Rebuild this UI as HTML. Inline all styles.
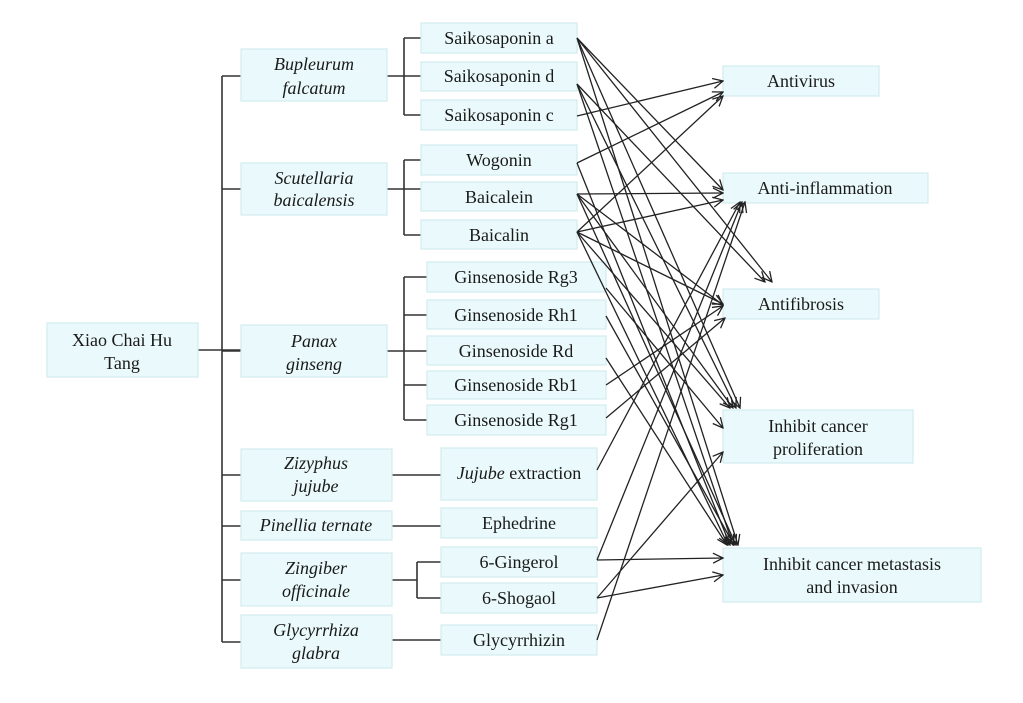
<!DOCTYPE html>
<html><head><meta charset="utf-8"><style>
body{margin:0;background:#fff;}
svg{display:block;}
.b{fill:#eaf9fb;stroke:#d2ecef;stroke-width:1.2;}
text{font-family:"Liberation Serif",serif;font-size:18px;fill:#1a1a1a;text-anchor:middle;}
.i{font-style:italic;}
.l{stroke:#333;stroke-width:1.6;fill:none;}
.a{stroke:#222;stroke-width:1.3;fill:none;marker-end:url(#m);}
</style></head><body>
<svg width="1023" height="703" viewBox="0 0 1023 703">
<defs><marker id="m" markerWidth="12" markerHeight="12" refX="11" refY="6" orient="auto" markerUnits="userSpaceOnUse"><path d="M1,1 L11,6 L1,11" fill="none" stroke="#222" stroke-width="1.3"/></marker></defs>
<path class="l" d="M198 350H241M222 76V642M222 76H241M222 189H241M222 351H241M222 475H241M222 526H241M222 580H241M222 642H241"/>
<path class="l" d="M387 76H421M404 38V115M404 38H421M404 115H421"/>
<path class="l" d="M387 189H421M404 160V235M404 160H421M404 235H421"/>
<path class="l" d="M387 351H427M404 277V420M404 277H427M404 315H427M404 385H427M404 420H427"/>
<path class="l" d="M392 475H441M392 526H441M392 580H417M417 562V598M417 562H441M417 598H441M392 640H441"/>
<rect class="b" x="47" y="323" width="151" height="54"/>
<text x="122" y="346">Xiao Chai Hu</text><text x="122" y="369">Tang</text>
<rect class="b" x="241" y="49" width="146" height="52"/>
<text class="i" x="314" y="70">Bupleurum</text><text class="i" x="314" y="94">falcatum</text>
<rect class="b" x="241" y="163" width="146" height="52"/>
<text class="i" x="314" y="184">Scutellaria</text><text class="i" x="314" y="206">baicalensis</text>
<rect class="b" x="241" y="325" width="146" height="52"/>
<text class="i" x="314" y="347">Panax</text><text class="i" x="314" y="370">ginseng</text>
<rect class="b" x="241" y="449" width="151" height="52"/>
<text class="i" x="316" y="469">Zizyphus</text><text class="i" x="316" y="492">jujube</text>
<rect class="b" x="241" y="511" width="151" height="29"/>
<text class="i" x="316" y="531">Pinellia ternate</text>
<rect class="b" x="241" y="553" width="151" height="53"/>
<text class="i" x="316" y="574">Zingiber</text><text class="i" x="316" y="597">officinale</text>
<rect class="b" x="241" y="615" width="151" height="53"/>
<text class="i" x="316" y="636">Glycyrrhiza</text><text class="i" x="316" y="659">glabra</text>

<rect class="b" x="421" y="23" width="156" height="30"/><text x="499" y="44">Saikosaponin a</text>
<rect class="b" x="421" y="62" width="156" height="29"/><text x="499" y="82">Saikosaponin d</text>
<rect class="b" x="421" y="100" width="156" height="30"/><text x="499" y="121">Saikosaponin c</text>
<rect class="b" x="421" y="145" width="156" height="30"/><text x="499" y="166">Wogonin</text>
<rect class="b" x="421" y="182" width="156" height="29"/><text x="499" y="203">Baicalein</text>
<rect class="b" x="421" y="220" width="156" height="29"/><text x="499" y="241">Baicalin</text>
<rect class="b" x="427" y="262" width="179" height="30"/><text x="516" y="283">Ginsenoside Rg3</text>
<rect class="b" x="427" y="300" width="179" height="29"/><text x="516" y="321">Ginsenoside Rh1</text>
<rect class="b" x="427" y="336" width="179" height="29"/><text x="516" y="357">Ginsenoside Rd</text>
<rect class="b" x="427" y="371" width="179" height="28"/><text x="516" y="391">Ginsenoside Rb1</text>
<rect class="b" x="427" y="405" width="179" height="30"/><text x="516" y="426">Ginsenoside Rg1</text>
<rect class="b" x="441" y="448" width="156" height="52"/><text x="519" y="479"><tspan font-style="italic">Jujube</tspan> extraction</text>
<rect class="b" x="441" y="508" width="156" height="30"/><text x="519" y="529">Ephedrine</text>
<rect class="b" x="441" y="547" width="156" height="30"/><text x="519" y="568">6-Gingerol</text>
<rect class="b" x="441" y="583" width="156" height="30"/><text x="519" y="604">6-Shogaol</text>
<rect class="b" x="441" y="625" width="156" height="30"/><text x="519" y="646">Glycyrrhizin</text>

<rect class="b" x="723" y="66" width="156" height="30"/><text x="801" y="87">Antivirus</text>
<rect class="b" x="723" y="173" width="205" height="30"/><text x="825" y="194">Anti-inflammation</text>
<rect class="b" x="723" y="289" width="156" height="30"/><text x="801" y="310">Antifibrosis</text>
<rect class="b" x="723" y="410" width="190" height="53"/><text x="818" y="432">Inhibit cancer</text><text x="818" y="455">proliferation</text>
<rect class="b" x="723" y="548" width="258" height="54"/><text x="852" y="570">Inhibit cancer metastasis</text><text x="852" y="593">and invasion</text>

<path class="a" d="M577 38L723 190"/>
<path class="a" d="M577 38L772 282"/>
<path class="a" d="M577 38L740 408"/>
<path class="a" d="M577 38L738 545"/>
<path class="a" d="M577 84L765 282"/>
<path class="a" d="M577 84L736 408"/>
<path class="a" d="M577 84L733 545"/>
<path class="a" d="M577 116L723 81"/>
<path class="a" d="M577 163L723 92"/>
<path class="a" d="M577 163L730 545"/>
<path class="a" d="M577 194L723 193"/>
<path class="a" d="M577 194L723 305"/>
<path class="a" d="M577 194L733 408"/>
<path class="a" d="M577 194L736 545"/>
<path class="a" d="M577 232L723 96"/>
<path class="a" d="M577 232L723 200"/>
<path class="a" d="M577 232L723 304"/>
<path class="a" d="M577 232L730 408"/>
<path class="a" d="M577 232L728 545"/>
<path class="a" d="M606 288L723 428"/>
<path class="a" d="M606 316L734 545"/>
<path class="a" d="M606 358L727 545"/>
<path class="a" d="M606 385L723 306"/>
<path class="a" d="M606 418L725 318"/>
<path class="a" d="M597 470L740 202"/>
<path class="a" d="M597 560L742 202"/>
<path class="a" d="M597 560L723 558"/>
<path class="a" d="M597 598L723 452"/>
<path class="a" d="M597 598L723 575"/>
<path class="a" d="M597 640L745 202"/>
</svg>
</body></html>
